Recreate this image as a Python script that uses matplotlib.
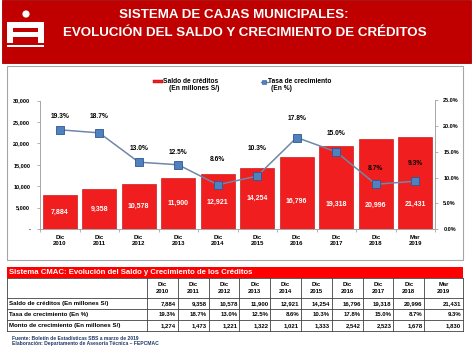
import matplotlib
matplotlib.use("Agg")
import matplotlib.pyplot as plt
from matplotlib.patches import Rectangle, Circle
import numpy as np

plt.rcParams['font.family'] = ['Liberation Sans', 'DejaVu Sans']

# ---------------- data ----------------
categories = ["Dic\n2010", "Dic\n2011", "Dic\n2012", "Dic\n2013", "Dic\n2014",
              "Dic\n2015", "Dic\n2016", "Dic\n2017", "Dic\n2018", "Mar\n2019"]
saldo = [7884, 9358, 10578, 11900, 12921, 14254, 16796, 19318, 20996, 21431]
tasa = [19.3, 18.7, 13.0, 12.5, 8.6, 10.3, 17.8, 15.0, 8.7, 9.3]
monto = [1274, 1473, 1221, 1322, 1021, 1333, 2542, 2523, 1678, 1830]
left_ticks = [0, 5000, 10000, 15000, 20000, 25000, 30000]
right_ticks = [0, 5, 10, 15, 20, 25]

title1 = "SISTEMA DE CAJAS MUNICIPALES:"
title2 = "EVOLUCIÓN DEL SALDO Y CRECIMIENTO DE CRÉDITOS"
table_title = "Sistema CMAC: Evolución del Saldo y Crecimiento de los Créditos"
row_labels = ["Saldo de créditos (En millones S/)", "Tasa de crecimiento (En %)",
              "Monto de crecimiento (En millones S/)"]
leg1 = ("Saldo de créditos", "(En millones S/)")
leg2 = ("Tasa de crecimiento", "(En %)")
foot1 = "Fuente: Boletín de Estadísticas SBS a marzo de 2019"
foot2 = "Elaboración: Departamento de Asesoría Técnica – FEPCMAC"

# label placement (styling only)
bar_label_frac = [0.5, 0.5, 0.49, 0.5, 0.49, 0.51, 0.38, 0.30, 0.26, 0.265]
line_label_off = [7, 9, 7, 6, 16, 17, 11, 11, 9, 10]

W, H = 474, 355
fig = plt.figure(figsize=(W / 100, H / 100), dpi=100)
bg = fig.add_axes([0, 0, 1, 1])
bg.set_xlim(0, W)
bg.set_ylim(H, 0)
bg.axis('off')

# ---------------- banner ----------------
bg.add_patch(Rectangle((2, 0), 469, 63, facecolor='#C00000', edgecolor='#A00000', lw=0.6))
# logo
bg.add_patch(Circle((26, 14), 3.6, facecolor='white', edgecolor='none'))
bg.add_patch(Rectangle((7.5, 22), 36.5, 21, facecolor='white', edgecolor='none'))
bg.add_patch(Rectangle((13.5, 28), 24.5, 4, facecolor='#C00000', edgecolor='none'))
bg.add_patch(Rectangle((13.5, 37), 24.5, 6.2, facecolor='#C00000', edgecolor='none'))
bg.add_patch(Rectangle((7.5, 45), 36.5, 2, facecolor='white', edgecolor='none'))
tfam = ['Liberation Sans']
bg.text(234, 15.5, title1, color='white', fontsize=9.6, fontweight='bold',
        family=tfam, ha='center', va='center')
bg.text(244.5, 33.5, title2, color='white', fontsize=9.6, fontweight='bold',
        family=tfam, ha='center', va='center')

# ---------------- chart box ----------------
bg.add_patch(Rectangle((7, 66), 456, 194, facecolor='white', edgecolor='#A6A6A6', lw=0.8))

# legend (manual)
bg.add_patch(Rectangle((153, 79.5), 10, 3.5, facecolor='#F01E1E', edgecolor='#B00000', lw=0.3))
bg.text(163.5, 81.5, leg1[0], fontsize=4.8, fontweight='bold', va='center', ha='left')
bg.text(169, 89, leg1[1], fontsize=4.8, fontweight='bold', va='center', ha='left')
bg.plot([261, 268], [81.5, 81.5], color='#6F87A8', lw=1.0)
bg.plot([264.5], [81.5], marker='s', ms=3, color='#4F81BD', mec='#2F5597', mew=0.4)
bg.text(268.5, 81.5, leg2[0], fontsize=4.8, fontweight='bold', va='center', ha='left')
bg.text(271, 89, leg2[1], fontsize=4.8, fontweight='bold', va='center', ha='left')

# ---------------- chart ----------------
ax = fig.add_axes([40 / W, (H - 229) / H, 395 / W, 128.5 / H])
ax.patch.set_alpha(0)
x = np.arange(len(categories))
ax.bar(x, saldo, width=0.86, color='#F01E1E', edgecolor='#C00000', lw=0.4, zorder=2)
ax.set_xlim(-0.5, len(categories) - 0.5)
ax.set_ylim(0, 30000)
ax.set_yticks(left_ticks)
ax.set_yticklabels(['-' if v == 0 else f'{v:,}' for v in left_ticks],
                   fontsize=4.0, fontweight='bold')
ax.set_xticks(x)
ax.set_xticklabels(categories, fontsize=4.3, fontweight='bold', linespacing=1.25)
ax.set_xticks(np.arange(-0.5, len(categories), 1), minor=True)
ax.tick_params(axis='x', which='major', length=0, pad=4)
ax.tick_params(axis='x', which='minor', length=2, color='#A6A6A6', width=0.6)
ax.tick_params(axis='y', length=2, color='#A6A6A6', width=0.6, pad=5)
for s in ['top', 'right']:
    ax.spines[s].set_visible(False)
for s in ['left', 'bottom']:
    ax.spines[s].set_color('#A6A6A6')
    ax.spines[s].set_linewidth(0.7)
for xi, v, f in zip(x, saldo, bar_label_frac):
    ax.text(xi, v * f, f'{v:,}', color='white', fontsize=5, fontweight='bold',
            ha='center', va='center', zorder=3)

ax2 = ax.twinx()
ax2.set_ylim(0, 25)
ax2.set_yticks(right_ticks)
ax2.set_yticklabels([f'{v:.1f}%' for v in right_ticks], fontsize=4.0, fontweight='bold')
ax2.tick_params(axis='y', length=2, color='#A6A6A6', width=0.6, pad=4)
for s in ['top', 'left', 'bottom']:
    ax2.spines[s].set_visible(False)
ax2.spines['right'].set_color('#A6A6A6')
ax2.spines['right'].set_linewidth(0.7)
ax2.plot(x, tasa, color='#6F87A8', lw=1.1, marker='s', ms=5.5,
         mfc='#4F81BD', mec='#2F5597', mew=0.6, zorder=4)
for xi, t, o in zip(x, tasa, line_label_off):
    ax2.annotate(f'{t:.1f}%', (xi, t), xytext=(0, o), textcoords='offset points',
                 ha='center', va='bottom', fontsize=4.8, fontweight='bold')

# ---------------- table ----------------
red = '#FF0000'
bg.add_patch(Rectangle((7, 267), 456, 10.5, facecolor=red, edgecolor='none'))
bg.text(9.5, 272.3, table_title, color='white', fontsize=5.6, fontweight='bold',
        ha='left', va='center')
col_edges = [7, 147] + [147 + 30.8 * (i + 1) for i in range(9)] + [463]
row_edges = [277.5, 298, 309, 320, 331]
lc = '#404040'
for y in row_edges:
    bg.plot([7, 463], [y, y], color=lc, lw=0.6)
for xe in col_edges:
    bg.plot([xe, xe], [277.5, 331], color=lc, lw=0.6)
for i, c in enumerate(categories):
    cx = (col_edges[i + 1] + col_edges[i + 2]) / 2
    bg.text(cx, 288, c, fontsize=4.2, fontweight='bold', ha='center', va='center',
            linespacing=1.5)
rows = [[f'{v:,}' for v in saldo], [f'{v:.1f}%' for v in tasa], [f'{v:,}' for v in monto]]
for r, (lab, vals) in enumerate(zip(row_labels, rows)):
    cy = (row_edges[r + 1] + row_edges[r + 2]) / 2
    bg.text(9.5, cy, lab, fontsize=4.4, fontweight='bold', ha='left', va='center')
    for i, v in enumerate(vals):
        bg.text(col_edges[i + 2] - 1.8, cy, v, fontsize=4.3, fontweight='bold',
                ha='right', va='center')

bg.text(12, 338, foot1, fontsize=3.6, fontweight='bold', color='#1F3864', ha='left', va='center')
bg.text(12, 344, foot2, fontsize=3.6, fontweight='bold', color='#1F3864', ha='left', va='center')

fig.savefig('out.png', dpi=100)
